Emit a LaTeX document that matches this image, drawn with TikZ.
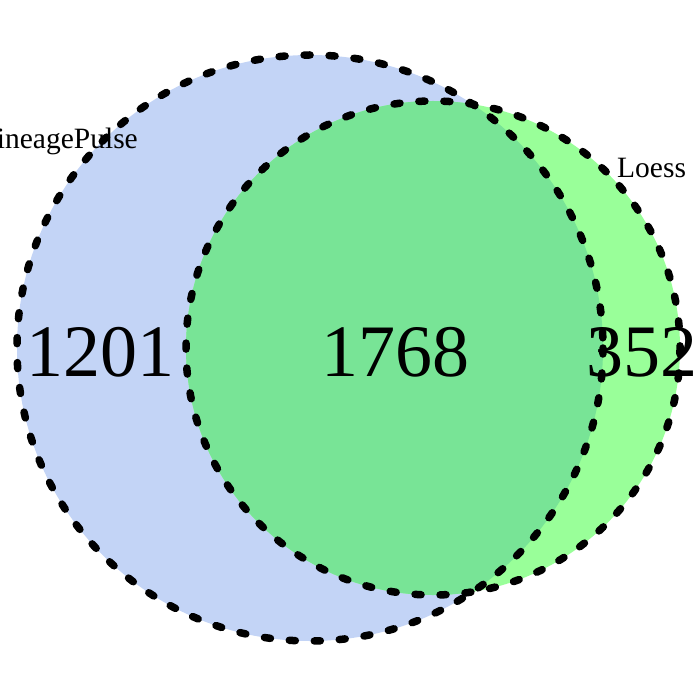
\documentclass[tikz,border=0pt]{standalone}
\usepackage{fontspec}
\setmainfont{Liberation Serif}
\definecolor{bluefill}{RGB}{195,212,246}
\definecolor{greenfill}{RGB}{153,255,153}
\definecolor{bothfill}{RGB}{120,228,150}
\begin{document}
\begin{tikzpicture}[x=1pt,y=-1pt,
  border/.style={line width=7.5pt,line cap=round,dash pattern=on 6pt off 19pt,black},
  count/.style={anchor=base,font=\fontsize{74}{74}\selectfont,inner sep=0pt},
  setlabel/.style={anchor=base,font=\fontsize{29.5}{29.5}\selectfont,inner sep=0pt}]
\useasboundingbox (0,0) rectangle (700,700);
\coordinate (cA) at (310,348);
\coordinate (cB) at (433,348);
\fill[bluefill] (cA) circle (293);
\fill[greenfill] (cB) circle (247);
\begin{scope}
  \clip (cA) circle (293);
  \fill[bothfill] (cB) circle (247);
\end{scope}
\draw[border] (cA) circle (293);
\draw[border] (cB) circle (247);
\node[count] (nA) at (100,376) {1201};
\node[count] (nAB) at (395,376) {1768};
\node[count] (nB) at (642,376) {352};
\node[setlabel,anchor=base east] (lA) at (138,149) {LineagePulse};
\node[setlabel,anchor=base west] (lB) at (617,178) {Loess};
\end{tikzpicture}
\end{document}
